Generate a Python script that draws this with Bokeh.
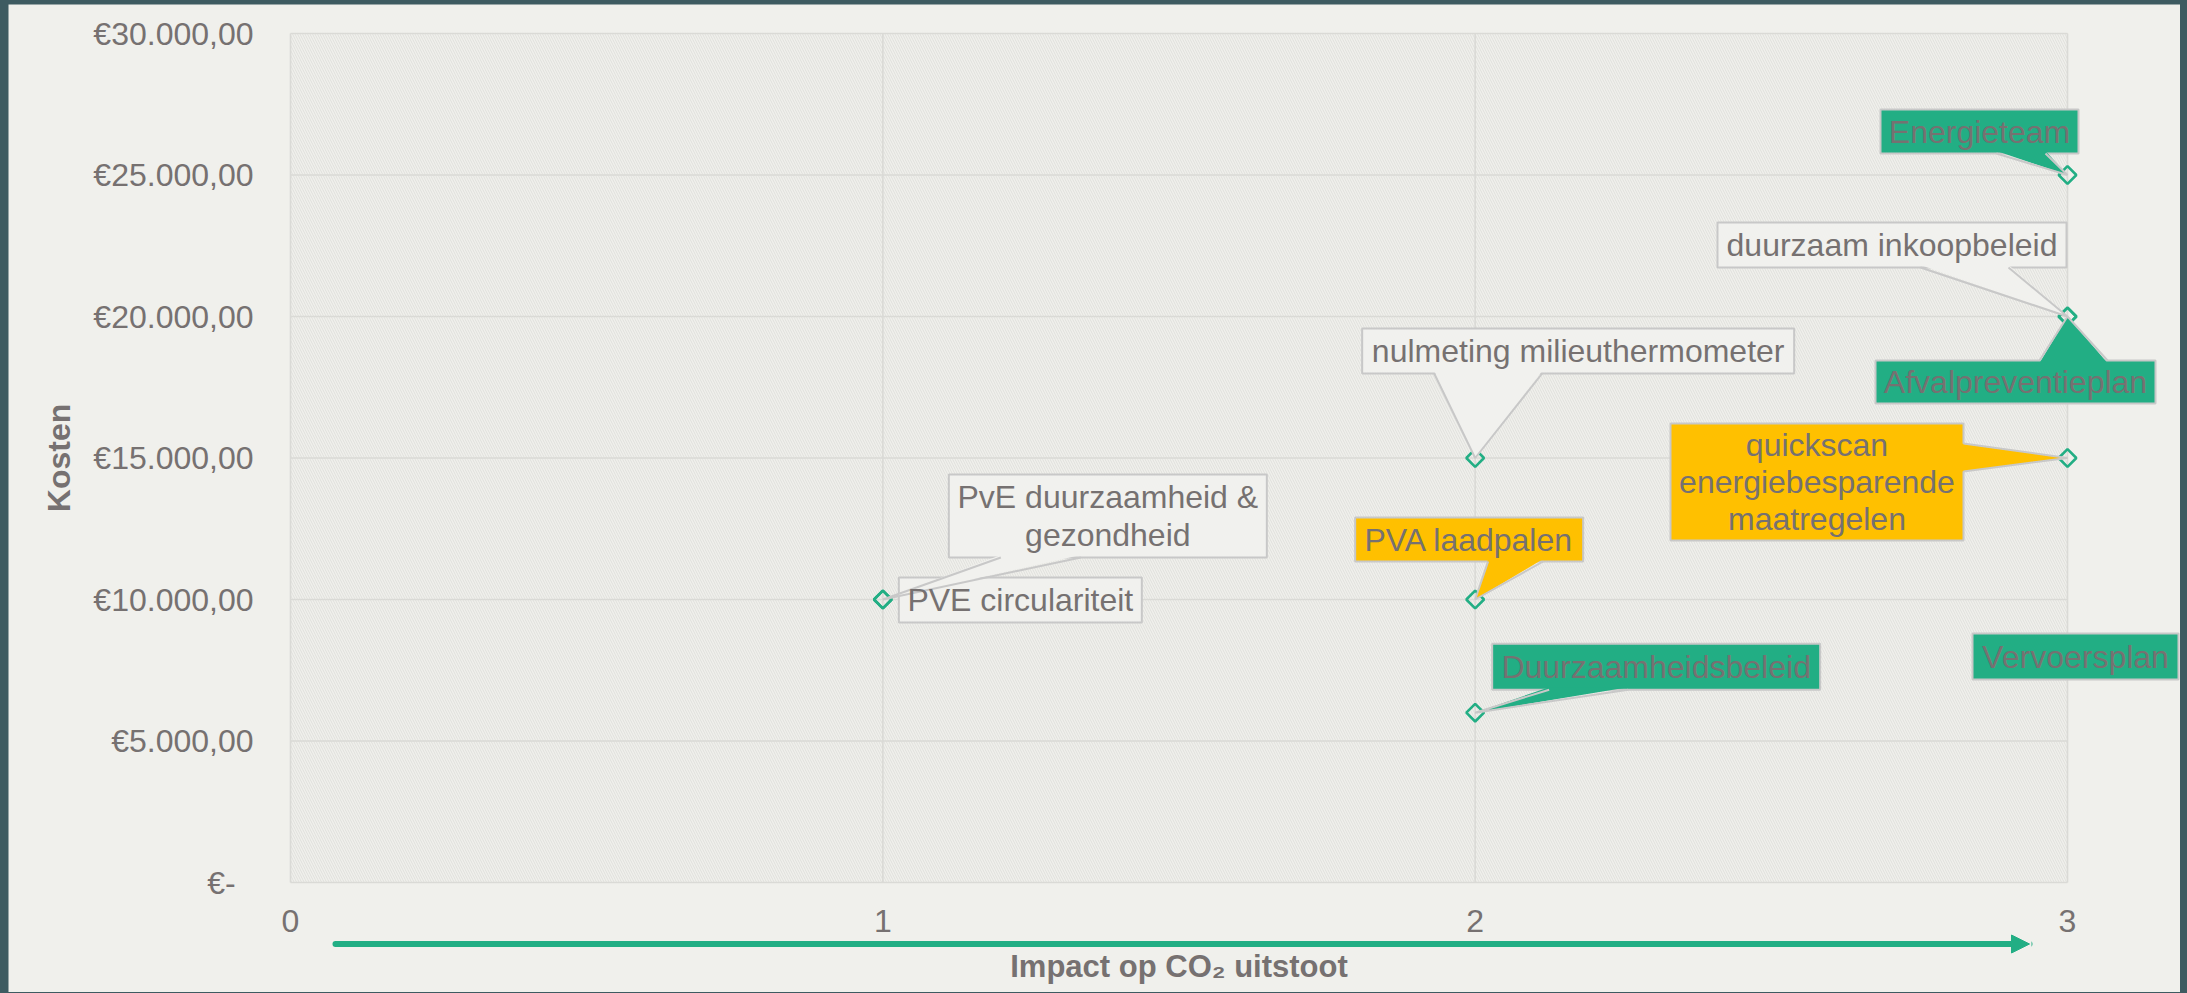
import math
from bokeh.plotting import figure
from bokeh.models import Range1d, Arrow, NormalHead
from bokeh.embed import file_html
from bokeh.resources import INLINE
from bokeh.core.properties import value

# ---------------- data ----------------
labels = ["PVE circulariteit", "Energieteam", "duurzaam inkoopbeleid", "Afvalpreventieplan",
          "quickscan\nenergiebesparende\nmaatregelen", "nulmeting milieuthermometer",
          "PVA laadpalen", "Duurzaamheidsbeleid", "PvE duurzaamheid &\ngezondheid", "Vervoersplan"]
impact = [1, 3, 3, 3, 3, 2, 2, 2, 1, 3]
kosten = [10000, 25000, 20000, 20000, 15000, 15000, 10000, 6000, 10000, 8000]
kind = ["gray", "green", "gray", "green", "yellow", "gray", "yellow", "green", "gray", "green"]

y_ticks = [0, 5000, 10000, 15000, 20000, 25000, 30000]
y_tick_labels = ["€-\u00a0\u00a0", "€5.000,00", "€10.000,00", "€15.000,00",
                 "€20.000,00", "€25.000,00", "€30.000,00"]
x_ticks = [0, 1, 2, 3]
x_tick_labels = ["0", "1", "2", "3"]
x_title = "Impact op CO\u2082 uitstoot"
y_title = "Kosten"

# ---------------- layout (pixel offsets of callout boxes relative to their point) ----------------
box_l = [16, -187, -350, -192, -397, -113, -120, 17, 66, -95]
box_r = [259, 11, -1, 88, -104, 319, 108, 345, 384, 111]
box_t = [-22, -65.5, -94, 44, -34.5, -129.5, -82, -69, -125, -22.6]
box_b = [23, -21.5, -49, 87, 82.5, -84.5, -38, -23, -42, 23.4]
ptr_side = [None, "b", "b", "t", "r", "b", "b", "b", "b", None]
ptr_a = [0, -71, -147, -28, -14.5, -41, 13, 74, 118, 0]
ptr_b = [0, -22, -59, 40, 13.5, 67, 68, 153, 198, 0]

BG = "#f0f0ec"
DARK = "#3e5b61"
GREEN = "#22ae84"
YELLOW = "#ffc000"
TEXT = "#767171"
GRID = "#dadad6"
HATCH = "#e0e0dc"
BORDER = "#c8c8c8"
GRAYBOX = "#f1f1ee"
FONT = "Liberation Sans"
fills = {"gray": GRAYBOX, "green": GREEN, "yellow": YELLOW}

# ---------------- geometry (page pixels of the plot area: x 290..2067, y 33..882) ----------------
PAGE_X0, PAGE_Y0 = 8, 4          # where the figure sits on the page
W, H = 2172, 988
PX_X = 1777 / 3.0          # px per impact unit
PX_Y = 849 / 30000.0       # px per euro
x_start = -(290 - PAGE_X0) / PX_X
x_end = (PAGE_X0 + W - 290) / PX_X
y_end = 30000 + (33 - PAGE_Y0) / PX_Y
y_start = -(PAGE_Y0 + H - 882) / PX_Y

def dx(px):
    return px / PX_X

def dy(py):
    # py: pixels downward
    return -py / PX_Y

p = figure(width=W, height=H, x_range=Range1d(x_start, x_end), y_range=Range1d(y_start, y_end),
           output_backend="svg", toolbar_location=None,
           x_axis_location=None, y_axis_location=None,
           min_border=0, background_fill_color=BG, border_fill_color=BG,
           outline_line_color=None)
p.grid.visible = False

# hatched plot area
p.quad(left=[0], right=[3], bottom=[0], top=[30000], fill_color=None, line_color=None,
       hatch_pattern="\\", hatch_color=HATCH, hatch_scale=5, hatch_weight=1.0)

# grid lines
p.segment(x0=[0] * len(y_ticks), x1=[3] * len(y_ticks), y0=y_ticks, y1=y_ticks,
          line_color=GRID, line_width=1.6)
p.segment(x0=x_ticks, x1=x_ticks, y0=[0] * len(x_ticks), y1=[30000] * len(x_ticks),
          line_color=GRID, line_width=1.6)

# y tick labels
p.text(x=[dx(-37)] * len(y_ticks), y=y_ticks, text=y_tick_labels,
       text_align="right", text_baseline="middle", text_font=value(FONT),
       text_font_size="32px", text_color=TEXT)

# x tick labels
p.text(x=x_ticks, y=[dy(920.5 - 882)] * len(x_ticks), text=x_tick_labels,
       text_align="center", text_baseline="middle", text_font=value(FONT),
       text_font_size="32px", text_color=TEXT)

# arrow along x
p.add_layout(Arrow(end=NormalHead(size=18, fill_color=GREEN, line_color=GREEN, line_width=1),
                   x_start=dx(335 - 290), y_start=dy(943.5 - 882),
                   x_end=dx(2029 - 290), y_end=dy(943.5 - 882),
                   line_color=GREEN, line_width=6, line_cap="round"))

# axis titles
p.text(x=[1.5], y=[dy(966 - 882)], text=[x_title], text_align="center", text_baseline="middle",
       text_font=value(FONT), text_font_style="bold", text_font_size="31px", text_color=TEXT)
p.text(x=[dx(58.5 - 290)], y=[15000], text=[y_title], angle=math.pi / 2,
       text_align="center", text_baseline="middle",
       text_font=value(FONT), text_font_style="bold", text_font_size="32px", text_color=TEXT)

# markers
p.scatter(x=impact, y=kosten, marker="square", angle=math.pi / 4, size=12.5,
          fill_color=None, line_color=GREEN, line_width=2.6)

# callouts
ql, qr, qt, qb, qf = [], [], [], [], []
px_list, py_list, pf = [], [], []
lx, ly = [], []
tx, ty = [], []
for i in range(len(labels)):
    x0, y0 = impact[i], kosten[i]
    L, R = x0 + dx(box_l[i]), x0 + dx(box_r[i])
    T, B = y0 + dy(box_t[i]), y0 + dy(box_b[i])
    ql.append(L); qr.append(R); qt.append(T); qb.append(B)
    qf.append(fills[kind[i]])
    tx.append((L + R) / 2); ty.append((T + B) / 2)
    s = ptr_side[i]
    if s is None:
        continue
    a, b = ptr_a[i], ptr_b[i]
    if s == "b":
        e1 = (x0 + dx(a), B); e2 = (x0 + dx(b), B)
        i1 = (x0 + dx(a), B + dy(-2.5)); i2 = (x0 + dx(b), B + dy(-2.5))
    elif s == "t":
        e1 = (x0 + dx(a), T); e2 = (x0 + dx(b), T)
        i1 = (x0 + dx(a), T + dy(2.5)); i2 = (x0 + dx(b), T + dy(2.5))
    else:
        e1 = (R, y0 + dy(a)); e2 = (R, y0 + dy(b))
        i1 = (R - dx(2.5), y0 + dy(a)); i2 = (R - dx(2.5), y0 + dy(b))
    px_list.append([i1[0], x0, i2[0]]); py_list.append([i1[1], y0, i2[1]])
    pf.append(fills[kind[i]])
    lx.append([e1[0], x0, e2[0]]); ly.append([e1[1], y0, e2[1]])

p.quad(left=ql, right=qr, top=qt, bottom=qb, fill_color=qf, line_color=BORDER, line_width=2)
p.patches(xs=px_list, ys=py_list, fill_color=pf, line_color=None)
p.multi_line(xs=lx, ys=ly, line_color=BORDER, line_width=2)

p.text(x=tx, y=ty, text=labels, text_align="center", text_baseline="middle",
       text_font=value(FONT), text_font_size="32px", text_color=TEXT, text_line_height=1.03)

html = file_html(p, INLINE)
html = html.replace("</head>",
                    "<style>html{background-color:%s;} body{background-color:%s;"
                    " padding:%dpx 0 0 %dpx !important; margin:0 !important;}</style></head>"
                    % (DARK, DARK, PAGE_Y0, PAGE_X0), 1)
open("out.html", "w").write(html)
